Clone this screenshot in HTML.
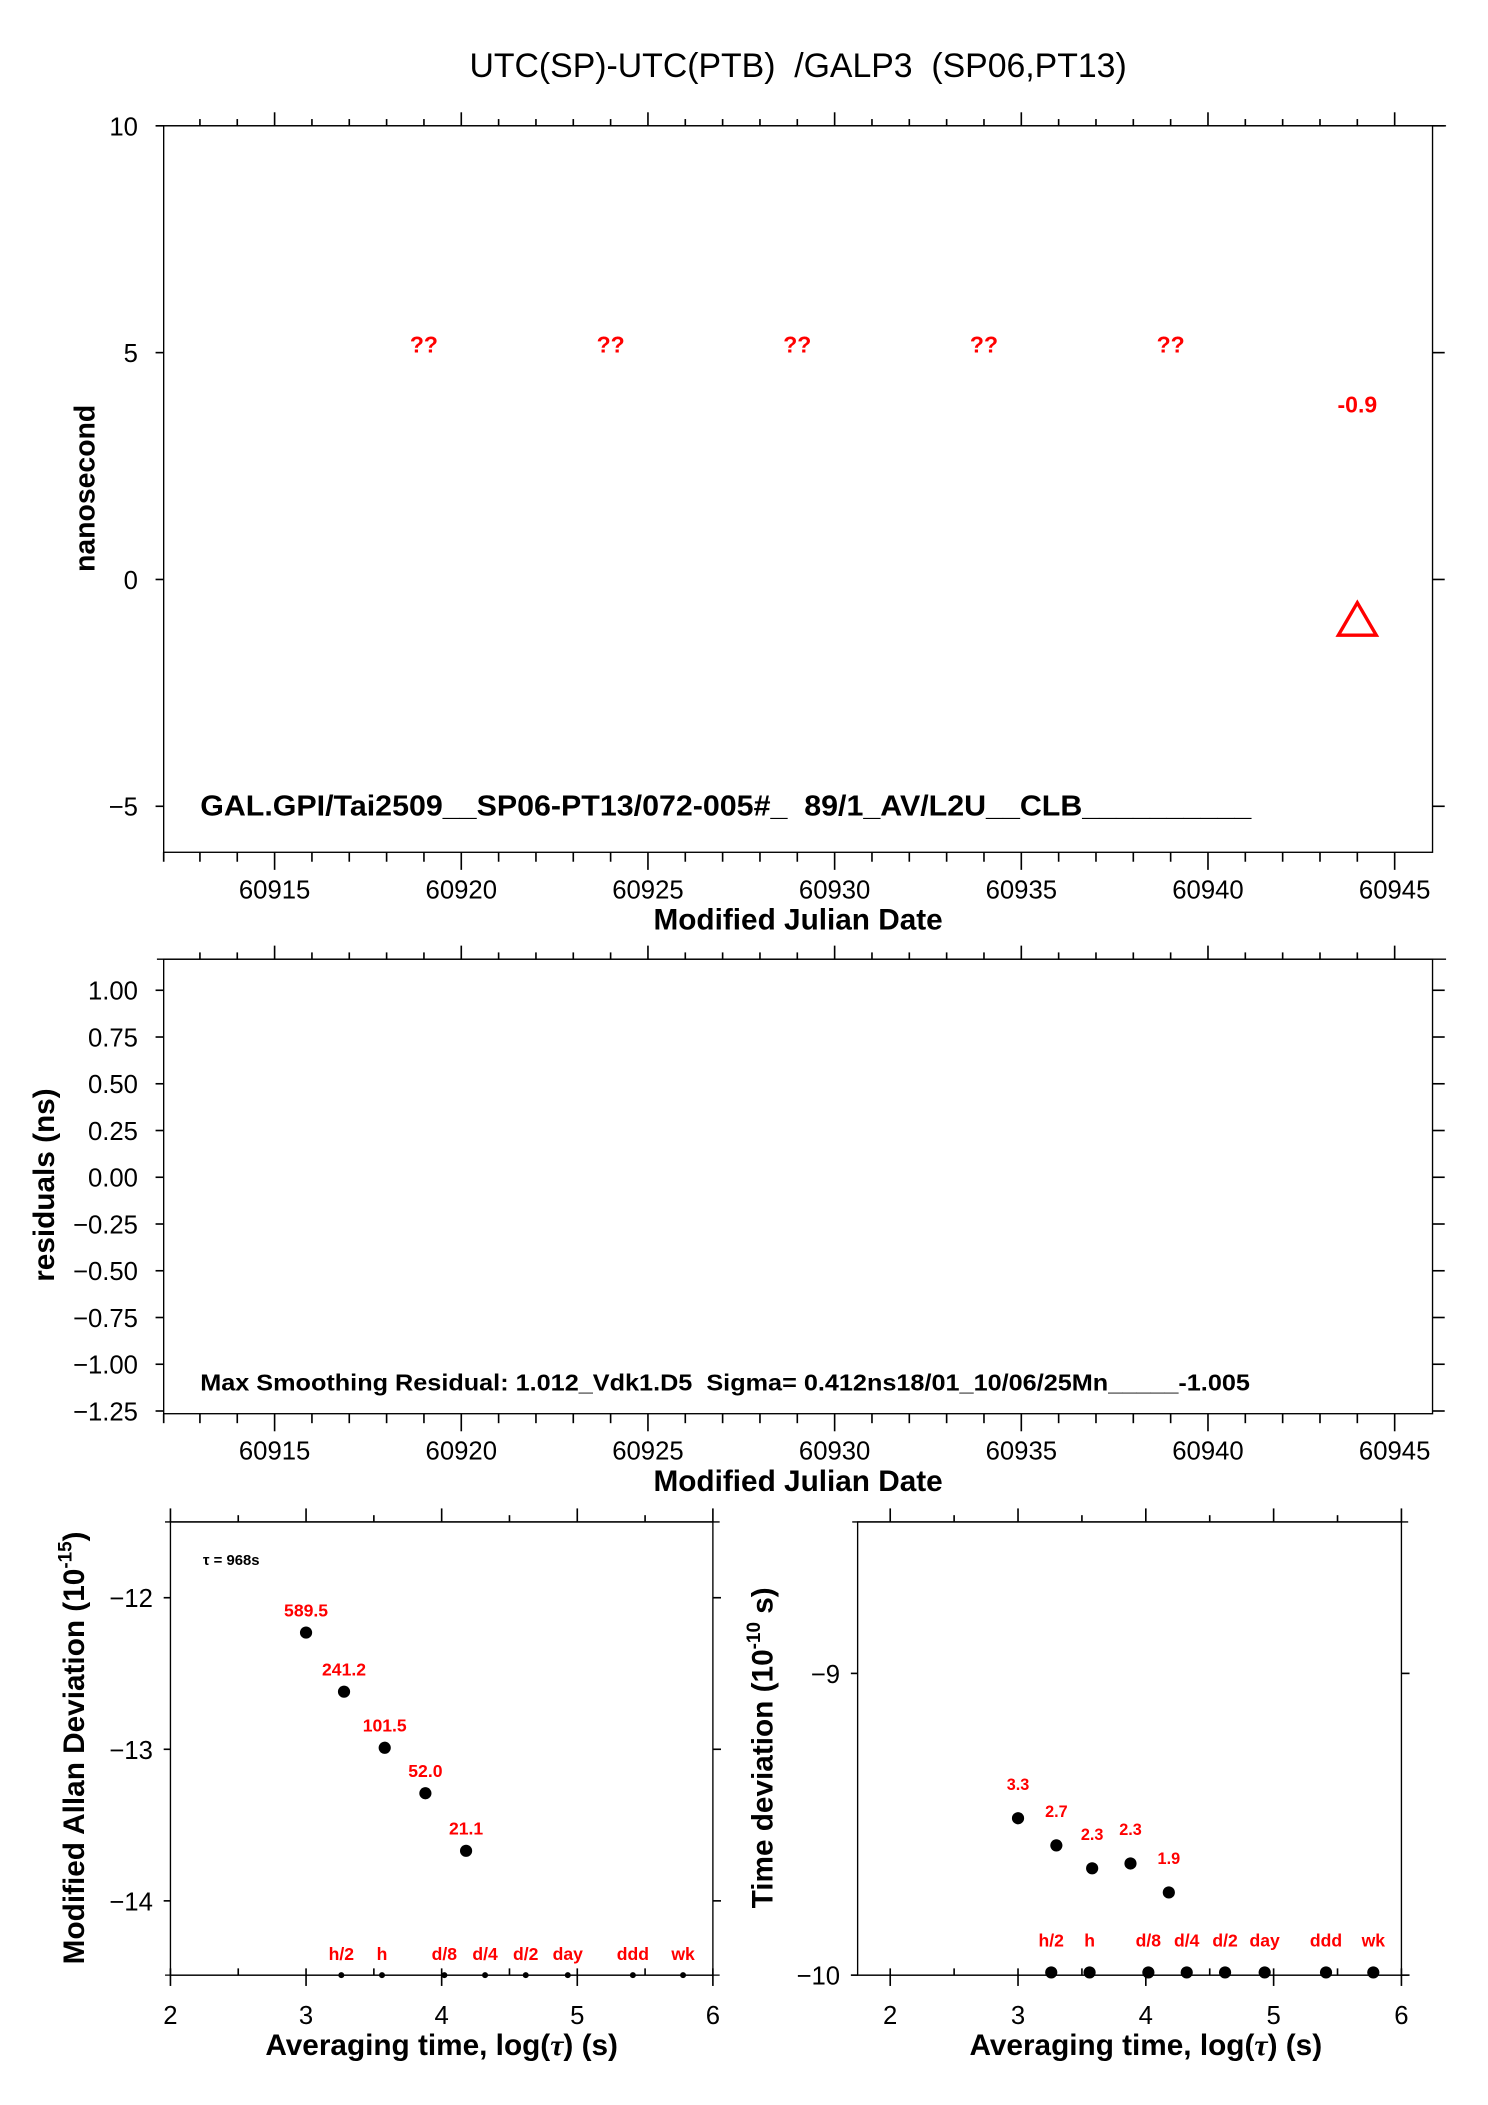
<!DOCTYPE html>
<html><head><meta charset="utf-8">
<style>
html,body{margin:0;padding:0;background:#fff;}
svg{display:block;}
text{font-family:"Liberation Sans",Arial,sans-serif;white-space:pre;}
</style></head>
<body>
<svg id="chart" width="1488" height="2105" viewBox="0 0 1100 1556" preserveAspectRatio="none" xmlns="http://www.w3.org/2000/svg" xml:space="preserve">
<rect x="0" y="0" width="1100" height="1556" fill="#fff"/>
<text x="590" y="57" font-size="25" text-anchor="middle">UTC(SP)-UTC(PTB)  /GALP3  (SP06,PT13)</text>
<g id="g"></g>
</svg>
<script>
// ---- data ----
const mjdTicks = [60915, 60920, 60925, 60930, 60935, 60940, 60945];
const nsTicks = [10, 5, 0, -5];
const resTicks = [1.00, 0.75, 0.50, 0.25, 0.00, -0.25, -0.50, -0.75, -1.00, -1.25];
const missingMjd = [60919, 60924, 60929, 60934, 60939];
const missingLabel = ["??", "??", "??", "??", "??"];
const offsetMjd = [60944];
const offsetNs = [-0.9];
const offsetLabel = ["-0.9"];
const logTicks = [2, 3, 4, 5, 6];
const madevTicks = [-12, -13, -14];
const tdevTicks = [-9, -10];
const madevX = [3.0, 3.28, 3.58, 3.88, 4.18];
const madevY = [-12.23, -12.62, -12.99, -13.29, -13.67];
const madevLabels = ["589.5", "241.2", "101.5", "52.0", "21.1"];
const tdevX = [3.0, 3.3, 3.58, 3.88, 4.18];
const tdevY = [-9.48, -9.57, -9.646, -9.63, -9.726];
const tdevLabels = ["3.3", "2.7", "2.3", "2.3", "1.9"];
const markerX = [3.26, 3.56, 4.02, 4.32, 4.62, 4.93, 5.41, 5.78];
const markerLabels = ["h/2", "h", "d/8", "d/4", "d/2", "day", "ddd", "wk"];

const NS = "http://www.w3.org/2000/svg";
const G = document.getElementById('g');
function mk(tag, attrs, parent) {
  const e = document.createElementNS(NS, tag);
  for (const k in attrs) e.setAttribute(k, attrs[k]);
  (parent || G).appendChild(e);
  return e;
}
function lin(d0, d1, r0, r1) { return v => r0 + (v - d0) * (r1 - r0) / (d1 - d0); }
function fmtMinus(s) { return String(s).replace('-', '\u2212'); }

// ---- MJD panels ----
const xMJD = lin(60915, 60945, 203, 1031);
function mjdPanel(top, bottom, name) {
  const L = 121, R = 1059;
  const fr = mk('rect', {x: L, y: top, width: R - L, height: bottom - top, fill: 'none', stroke: '#000', 'stroke-width': 1});
  
  
  mk('line', {x1: 116, y1: top, x2: 1069, y2: top, stroke: '#000'});
  for (let d = 60913; d <= 60945; d++) {
    const x = xMJD(d);
    const major = d % 5 === 0;
    mk('line', {x1: x, y1: top, x2: x, y2: top - (major ? 10 : 5), stroke: '#000', 'stroke-width': 1.2});
    mk('line', {x1: x, y1: bottom, x2: x, y2: bottom + (major ? 13 : 7), stroke: '#000', 'stroke-width': 1.2});
  }
  mk('line', {x1: L, y1: bottom, x2: L, y2: bottom + 7, stroke: '#000', 'stroke-width': 1.2});
  mjdTicks.forEach(d => {
    const t = mk('text', {x: xMJD(d), y: bottom + 34, 'font-size': 19, 'text-anchor': 'middle'});
    t.textContent = d;
    
    
  });
  const xt = mk('text', {x: 590, y: bottom + 57, 'font-size': 22, 'font-weight': 'bold', 'text-anchor': 'middle'});
  xt.textContent = 'Modified Julian Date';
  
  
}

// top panel
mjdPanel(93, 630, 'offset-plot');
const yNs = lin(10, -5, 93, 596);
nsTicks.forEach(v => {
  const y = yNs(v);
  mk('line', {x1: 115, y1: y, x2: 121, y2: y, stroke: '#000', 'stroke-width': 1.2});
  mk('line', {x1: 1059, y1: y, x2: 1068, y2: y, stroke: '#000', 'stroke-width': 1.2});
  const t = mk('text', {x: 102, y: y + 7, 'font-size': 19, 'text-anchor': 'end'});
  t.textContent = fmtMinus(v);
  
  
});
{
  const t = mk('text', {x: 0, y: 0, 'font-size': 21, 'font-weight': 'bold', 'text-anchor': 'middle', transform: 'translate(70,361) rotate(-90)'});
  t.textContent = 'nanosecond';
  
  
}
missingMjd.forEach((d, i) => {
  const t = mk('text', {x: xMJD(d), y: yNs(5) + 0, 'font-size': 17, 'font-weight': 'bold', fill: '#f00', 'text-anchor': 'middle'});
  t.textContent = missingLabel[i];
  
  
});
offsetMjd.forEach((d, i) => {
  const x = xMJD(d), y = yNs(offsetNs[i]);
  const p = mk('polygon', {points: `${x},${y - 13} ${x - 14},${y + 11} ${x + 14},${y + 11}`, fill: 'none', stroke: '#f00', 'stroke-width': 2.5});
  
  
  const t = mk('text', {x: x, y: yNs(3.65) - 1, 'font-size': 17, 'font-weight': 'bold', fill: '#f00', 'text-anchor': 'middle'});
  t.textContent = offsetLabel[i];
  
  
});
{
  const t = mk('text', {x: 148, y: 603, 'font-size': 21, 'font-weight': 'bold', textLength: 777, lengthAdjust: 'spacingAndGlyphs'});
  t.textContent = 'GAL.GPI/Tai2509__SP06-PT13/072-005#_  89/1_AV/L2U__CLB__________';
  
  
}

// middle panel
mjdPanel(709, 1045, 'residual-plot');
const yRes = lin(1.0, -1.25, 732, 1043);
resTicks.forEach(v => {
  const y = yRes(v);
  mk('line', {x1: 115, y1: y, x2: 121, y2: y, stroke: '#000', 'stroke-width': 1.2});
  mk('line', {x1: 1059, y1: y, x2: 1068, y2: y, stroke: '#000', 'stroke-width': 1.2});
  const t = mk('text', {x: 102, y: y + 7, 'font-size': 19, 'text-anchor': 'end'});
  t.textContent = fmtMinus(v.toFixed(2));
  
  
});
{
  const t = mk('text', {x: 0, y: 0, 'font-size': 22, 'font-weight': 'bold', 'text-anchor': 'middle', transform: 'translate(40,876) rotate(-90)'});
  t.textContent = 'residuals (ns)';
  
  
  const c = mk('text', {x: 148, y: 1028, 'font-size': 17, 'font-weight': 'bold', textLength: 776, lengthAdjust: 'spacingAndGlyphs'});
  c.textContent = 'Max Smoothing Residual: 1.012_Vdk1.D5  Sigma= 0.412ns18/01_10/06/25Mn_____-1.005';
  
  
}

// ---- log panels ----
function logPanel(L, R, top, bottom, xLo, xHi, yTop, yBot, yTicks, name) {
  const xs = lin(xLo, xHi, L, R), ys = lin(yTop, yBot, top, bottom);
  const fr = mk('rect', {x: L, y: top, width: R - L, height: bottom - top, fill: 'none', stroke: '#000'});
  
  
  mk('line', {x1: L - 4, y1: top, x2: R + 5, y2: top, stroke: '#000'});
  mk('line', {x1: L - 4, y1: bottom, x2: R + 5, y2: bottom, stroke: '#000'});
  for (let v = 2; v <= 6.001; v += 0.5) {
    const x = xs(v);
    if (x < L - 1 || x > R + 1) continue;
    const major = Math.abs(v - Math.round(v)) < 1e-6;
    mk('line', {x1: x, y1: top, x2: x, y2: top - (major ? 10 : 5), stroke: '#000', 'stroke-width': 1.2});
    mk('line', {x1: x, y1: bottom, x2: x, y2: bottom + (major ? 8 : 0), stroke: '#000', 'stroke-width': 1.2});
    mk('line', {x1: x, y1: bottom, x2: x, y2: bottom - 5, stroke: '#000', 'stroke-width': 1.2});
  }
  logTicks.forEach(v => {
    const t = mk('text', {x: xs(v), y: bottom + 36, 'font-size': 19, 'text-anchor': 'middle'});
    t.textContent = v;
    
    
  });
  yTicks.forEach(v => {
    const y = ys(v);
    mk('line', {x1: L - 5, y1: y, x2: L, y2: y, stroke: '#000', 'stroke-width': 1.2});
    mk('line', {x1: R, y1: y, x2: R + 6, y2: y, stroke: '#000', 'stroke-width': 1.2});
    const t = mk('text', {x: L - 13, y: y + 7, 'font-size': 19, 'text-anchor': 'end'});
    t.textContent = fmtMinus(v);
    
    
  });
  const xt = mk('text', {x: (xs(2) + xs(6)) / 2, y: bottom + 59, 'font-size': 22, 'font-weight': 'bold', 'text-anchor': 'middle'});
  xt.innerHTML = 'Averaging time, log(<tspan font-family="Liberation Serif, serif" font-style="italic">τ</tspan>) (s)';
  
  
  return {xs, ys};
}

// left: MDEV
const A = logPanel(126, 527, 1125, 1460, 2, 6, -11.5, -14.49, madevTicks, 'madev-plot');
{
  const t = mk('text', {x: 0, y: 0, 'font-size': 22, 'font-weight': 'bold', 'text-anchor': 'middle', transform: 'translate(62,1292) rotate(-90)'});
  t.innerHTML = 'Modified Allan Deviation (10<tspan dy="-9" font-size="14">-15</tspan><tspan dy="9">)</tspan>';
  
  
  const tau = mk('text', {x: 150, y: 1157, 'font-size': 11, 'font-weight': 'bold'});
  tau.textContent = 'τ = 968s';
  
  
}
madevX.forEach((v, i) => {
  const c = mk('circle', {cx: A.xs(v), cy: A.ys(madevY[i]), r: 4.5, fill: '#000'});
  
  
  const t = mk('text', {x: A.xs(v), y: A.ys(madevY[i]) - 12, 'font-size': 13, 'font-weight': 'bold', fill: '#f00', 'text-anchor': 'middle'});
  t.textContent = madevLabels[i];
  
  
});
markerX.forEach((v, i) => {
  const c = mk('circle', {cx: A.xs(v), cy: 1460, r: 2.2, fill: '#000'});
  
  
  const t = mk('text', {x: A.xs(v), y: 1449, 'font-size': 13, 'font-weight': 'bold', fill: '#f00', 'text-anchor': 'middle'});
  t.textContent = markerLabels[i];
  
  
});

// right: TDEV
const B = logPanel(634, 1036, 1125, 1460, 1.745, 6, -8.498, -10, tdevTicks, 'tdev-plot');
{
  const t = mk('text', {x: 0, y: 0, 'font-size': 22, 'font-weight': 'bold', 'text-anchor': 'middle', transform: 'translate(571,1292) rotate(-90)'});
  t.innerHTML = 'Time deviation (10<tspan dy="-9" font-size="14">-10</tspan><tspan dy="9"> s)</tspan>';
  
  
}
tdevX.forEach((v, i) => {
  const c = mk('circle', {cx: B.xs(v), cy: B.ys(tdevY[i]), r: 4.5, fill: '#000'});
  
  
  const t = mk('text', {x: B.xs(v), y: B.ys(tdevY[i]) - 21, 'font-size': 12, 'font-weight': 'bold', fill: '#f00', 'text-anchor': 'middle'});
  t.textContent = tdevLabels[i];
  
  
});
markerX.forEach((v, i) => {
  const c = mk('circle', {cx: B.xs(v), cy: B.ys(-10) - 2, r: 4.5, fill: '#000'});
  
  
  const t = mk('text', {x: B.xs(v), y: 1439, 'font-size': 13, 'font-weight': 'bold', fill: '#f00', 'text-anchor': 'middle'});
  t.textContent = markerLabels[i];
  
  
});
</script>
</body></html>
